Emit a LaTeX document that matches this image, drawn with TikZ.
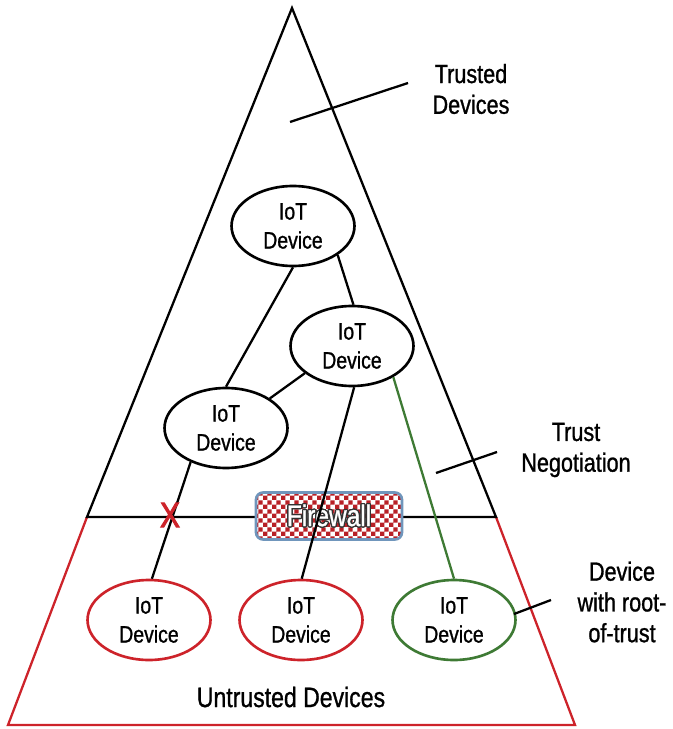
\documentclass[tikz,border=0pt]{standalone}
\usepackage{fontspec}
\setmainfont[FakeStretch=0.82, FakeBold=1]{Liberation Sans}
\newfontfamily\crossfont[FakeStretch=0.85, FakeBold=2.5]{Liberation Sans}
\usepackage{contour}
\usetikzlibrary{shapes.geometric}
\usetikzlibrary{patterns}
\definecolor{untrust}{RGB}{205, 35, 42}
\definecolor{rootgreen}{RGB}{62, 122, 52}
\definecolor{fwborder}{RGB}{112, 150, 188}
\colorlet{fwred}{untrust!90!black}
\contourlength{0.7pt}
\pgfdeclarepatternformonly{fwcheck}{\pgfpointorigin}{\pgfqpoint{5pt}{5pt}}{\pgfqpoint{5pt}{5pt}}{%
    \pgfpathrectangle{\pgfpointorigin}{\pgfqpoint{2.5pt}{2.5pt}}%
    \pgfpathrectangle{\pgfqpoint{2.5pt}{2.5pt}}{\pgfqpoint{2.5pt}{2.5pt}}%
    \pgfusepath{fill}}

\begin{document}
\begin{tikzpicture}[x=0.02cm, y=-0.02cm, line width=1.3pt,
    dev/.style={ellipse, draw, line width=1.5pt, minimum width=2.46cm, minimum height=1.6cm, inner sep=0pt, align=center, font=\fontsize{13.5}{16.5}\selectfont},
    label/.style={align=center, font=\fontsize{15}{17.5}\selectfont},
    lead/.style={line width=1.3pt}]

    \useasboundingbox (0,0) rectangle (672,729);

    % trusted zone and untrusted zone
    \coordinate (apex) at (292,8);
    \coordinate (bl) at (87,517);
    \coordinate (br) at (496,517);
    \coordinate (ul) at (8,725);
    \coordinate (ur) at (575,725);
    \draw[untrust] (bl) -- (ul) -- (ur) -- (br);
    \draw (bl) -- (apex) -- (br) -- cycle;

    % firewall on the border
    \node[rounded corners=4pt, draw=fwborder, line width=1.5pt, preaction={fill=white}, pattern=fwcheck, pattern color=fwred,
        minimum width=2.92cm, minimum height=0.94cm, font=\fontsize{17}{17}\selectfont] (fw) at (329,516)
        {\contour{black!80}{\textcolor{white}{Firewall}}};

    % devices
    \node[dev] (top) at (293,226) {IoT\\Device};
    \node[dev] (mid) at (352,346) {IoT\\Device};
    \node[dev] (left) at (226,428) {IoT\\Device};
    \node[dev, untrust] (b1) at (149,620) {\textcolor{black}{IoT}\\\textcolor{black}{Device}};
    \node[dev, untrust] (b2) at (301,620) {\textcolor{black}{IoT}\\\textcolor{black}{Device}};
    \node[dev, rootgreen] (b3) at (454,620) {\textcolor{black}{IoT}\\\textcolor{black}{Device}};

    \draw (top.-33) -- (mid.88);
    \draw (top.-90) -- (left.90);
    \draw (mid.-150) -- (left.34);
    \draw (left.224) -- (b1.86);
    \draw (mid.-87) -- (b2.89);
    \draw[rootgreen] (mid.-37) -- (b3.90);

    \node[untrust, font=\crossfont\fontsize{20}{20}\selectfont] (cut) at (170,515) {X};

    % labels
    \node[label] (trusted) at (471,89) {Trusted\\Devices};
    \node[label] (nego) at (576,450) {Trust\\Negotiation};
    \node[label] (root) at (622,602) {Device\\with root-\\of-trust};
    \node[label, font=\fontsize{16}{18}\selectfont] (untrusted) at (291,697) {Untrusted Devices};

    \coordinate (t1) at (290,122);
    \coordinate (t2) at (408,83);
    \coordinate (n1) at (436,473);
    \coordinate (n2) at (497,452);
    \coordinate (r1) at (514,614);
    \coordinate (r2) at (551,600);
    \draw[lead] (t1) -- (t2);
    \draw[lead] (n1) -- (n2);
    \draw[lead] (r1) -- (r2);

\end{tikzpicture}
\end{document}
